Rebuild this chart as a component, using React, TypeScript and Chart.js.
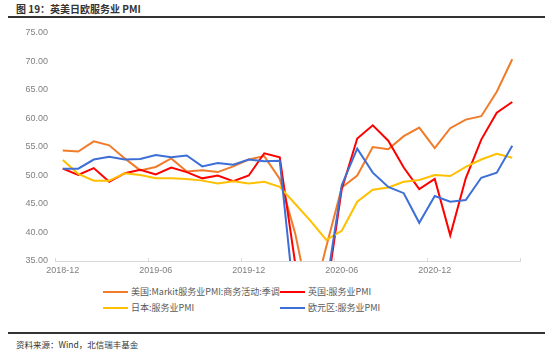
import React, { useEffect, useRef } from "react";
import { Chart, registerables } from "chart.js";

Chart.register(...registerables);

const months = [
  "2018-12", "2019-01", "2019-02", "2019-03", "2019-04", "2019-05",
  "2019-06", "2019-07", "2019-08", "2019-09", "2019-10", "2019-11",
  "2019-12", "2020-01", "2020-02", "2020-03", "2020-04", "2020-05",
  "2020-06", "2020-07", "2020-08", "2020-09", "2020-10", "2020-11",
  "2020-12", "2021-01", "2021-02", "2021-03", "2021-04", "2021-05",
];

const usPMI = [54.4, 54.2, 56.0, 55.3, 53.0, 50.9, 51.5, 53.0, 50.7, 50.9, 50.6, 51.6, 52.8, 53.4, 49.4, 39.8, 26.7, 37.5, 47.9, 50.0, 55.0, 54.6, 56.9, 58.4, 54.8, 58.3, 59.8, 60.4, 64.7, 70.4];
const ukPMI = [51.2, 50.1, 51.3, 48.9, 50.4, 51.0, 50.2, 51.4, 50.6, 49.5, 50.0, 49.0, 50.0, 53.9, 53.2, 34.5, 13.4, 29.0, 47.6, 56.5, 58.8, 56.1, 51.4, 47.6, 49.4, 39.5, 49.5, 56.3, 61.0, 62.9];
const jpPMI = [52.7, 50.3, 49.1, 49.1, 50.4, 50.1, 49.5, 49.5, 49.4, 49.1, 48.6, 49.0, 48.6, 48.9, 48.0, 45.0, 42.0, 38.7, 40.3, 45.4, 47.5, 47.9, 48.9, 49.2, 50.1, 49.9, 51.5, 52.8, 53.8, 53.1];
const euPMI = [51.2, 51.2, 52.8, 53.3, 52.8, 52.9, 53.6, 53.2, 53.5, 51.6, 52.2, 51.9, 52.8, 52.5, 52.6, 26.4, 12.0, 30.5, 48.3, 54.7, 50.5, 48.0, 46.9, 41.7, 46.4, 45.4, 45.7, 49.6, 50.5, 55.2];

const seriesNames = [
  "美国:Markit服务业PMI:商务活动:季调",
  "英国:服务业PMI",
  "日本:服务业PMI",
  "欧元区:服务业PMI",
];
const seriesColors = ["#F07C2A", "#FF0000", "#FFC000", "#3D6FD6"];

const yMin = 35;
const yMax = 75;
const yStep = 5;
const labelEvery = 6;

const titleText = "图 19：英美日欧服务业 PMI";
const sourceText = "资料来源：Wind，北信瑞丰基金";

const tickPlugin = {
  id: "upTicks",
  afterDraw(chart: any) {
    const xs = chart.scales.x;
    const n = months.length;
    const band = (xs.right - xs.left) / n;
    const ctx = chart.ctx;
    ctx.save();
    ctx.strokeStyle = "#D9D9D9";
    ctx.lineWidth = 1;
    for (let i = 0; i <= n; i += labelEvery) {
      const x = Math.round(xs.getPixelForValue(Math.min(i, n - 1)) + (i === n ? band / 2 : -band / 2)) + 0.5;
      ctx.beginPath();
      ctx.moveTo(x, xs.top);
      ctx.lineTo(x, xs.top - 3);
      ctx.stroke();
    }
    ctx.restore();
  },
};

export default function App() {
  const ref = useRef<HTMLCanvasElement>(null);

  useEffect(() => {
    if (!ref.current) return;
    const data = [usPMI, ukPMI, jpPMI, euPMI];
    const chart = new Chart(ref.current, {
      type: "line",
      data: {
        labels: months,
        datasets: data.map((d, i) => ({
          label: seriesNames[i],
          data: d,
          borderColor: seriesColors[i],
          backgroundColor: seriesColors[i],
          borderWidth: 2,
          pointRadius: 0,
          tension: 0,
          fill: false,
          order: 4 - i,
        })),
      },
      options: {
        animation: false,
        responsive: true,
        maintainAspectRatio: false,
        layout: { padding: { left: 0, right: 30, top: 33, bottom: 4 } },
        plugins: {
          legend: { display: false },
          tooltip: { enabled: false },
          title: { display: false },
        },
        scales: {
          x: {
            type: "category",
            offset: true,
            grid: { display: false, drawTicks: false },
            border: { display: true, color: "#D9D9D9", width: 1 },
            ticks: {
              autoSkip: false,
              maxRotation: 0,
              minRotation: 0,
              padding: 4,
              color: "#808080",
              font: { family: "Liberation Sans, Arial, sans-serif", size: 9 },
              callback: (_v: any, i: number) => (i % labelEvery === 0 ? months[i] : ""),
            },
            afterFit: (s: any) => {
              s.height = 20;
            },
          },
          y: {
            min: yMin,
            max: yMax,
            grid: { display: false, drawTicks: false },
            border: { display: false },
            ticks: {
              stepSize: yStep,
              padding: 7,
              color: "#808080",
              font: { family: "Liberation Sans, Arial, sans-serif", size: 9 },
              callback: (v: any) => Number(v).toFixed(2),
            },
            afterFit: (s: any) => {
              s.width = 55;
            },
          },
        },
      },
      plugins: [tickPlugin],
    });
    return () => chart.destroy();
  }, []);

  const legendFont = "'Noto Sans CJK SC', 'Liberation Sans', sans-serif";
  const legendPos = [
    { left: 103, top: 286 },
    { left: 280, top: 286 },
    { left: 103, top: 302 },
    { left: 280, top: 302 },
  ];

  return (
    <div style={{ position: "absolute", left: 0, top: 0, width: 550, height: 360, background: "#fff", overflow: "hidden" }}>
      <div
        style={{
          position: "absolute",
          left: 16,
          top: 2,
          fontFamily: "'Noto Sans CJK SC', sans-serif",
          fontSize: 10,
          fontWeight: 700,
          color: "#333",
          lineHeight: "14px",
          whiteSpace: "nowrap",
        }}
      >
        {titleText}
      </div>
      <div style={{ position: "absolute", left: 8, top: 16, width: 537, height: 2, background: "#333" }} />
      <div style={{ position: "absolute", left: 0, top: 0, width: 550, height: 285 }}>
        <canvas ref={ref} />
      </div>
      {seriesNames.map((name, i) => (
        <div
          key={name}
          style={{
            position: "absolute",
            left: legendPos[i].left,
            top: legendPos[i].top,
            height: 12,
            display: "flex",
            alignItems: "center",
            whiteSpace: "nowrap",
          }}
        >
          <span style={{ display: "inline-block", width: 25, height: 2, background: seriesColors[i], marginRight: 3 }} />
          <span style={{ fontFamily: legendFont, fontSize: 9, color: "#595959", lineHeight: "12px" }}>{name}</span>
        </div>
      ))}
      <div style={{ position: "absolute", left: 8, top: 332, width: 537, height: 2, background: "#333" }} />
      <div
        style={{
          position: "absolute",
          left: 16,
          top: 338,
          fontFamily: "'Noto Sans CJK SC', sans-serif",
          fontSize: 8.5,
          color: "#333",
          lineHeight: "12px",
          whiteSpace: "nowrap",
        }}
      >
        {sourceText}
      </div>
    </div>
  );
}
